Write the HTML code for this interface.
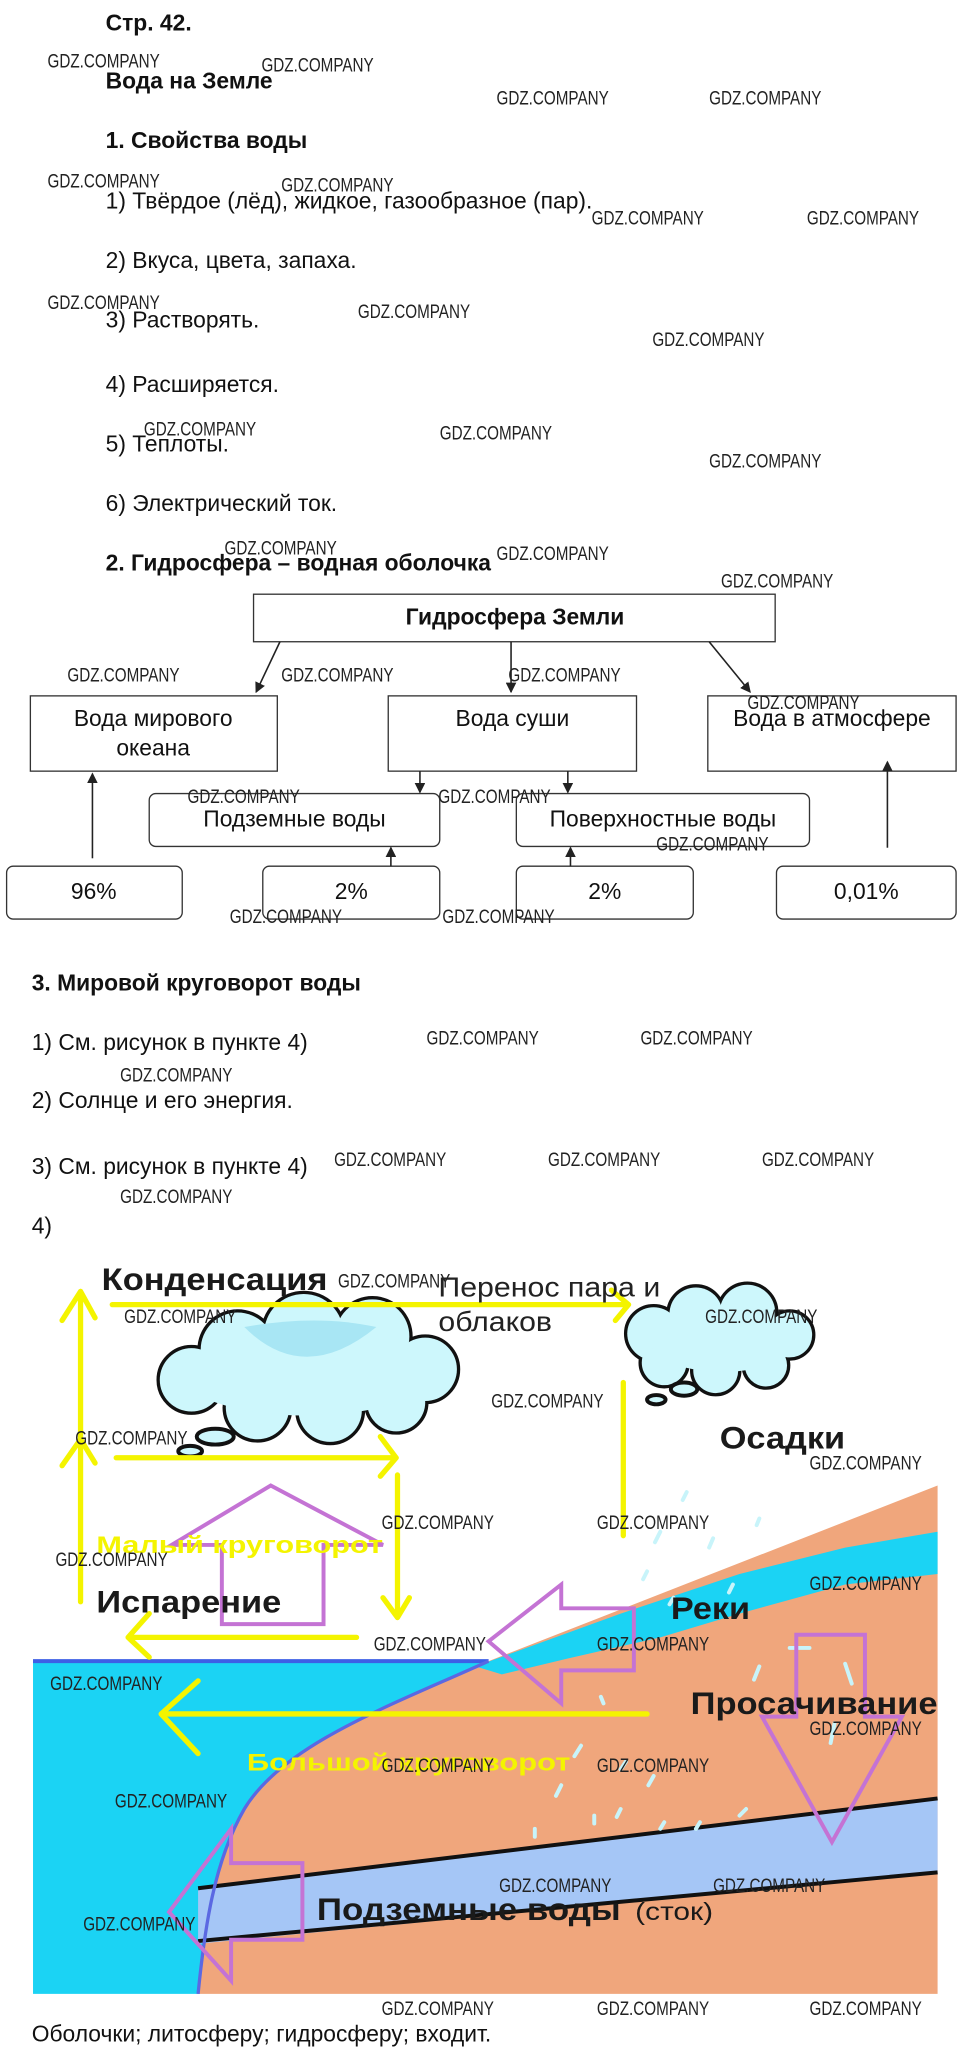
<!DOCTYPE html>
<html><head><meta charset="utf-8"><style>
html,body{margin:0;padding:0;background:#fff;}
svg{display:block;}
text{font-family:"Liberation Sans",sans-serif;}
.t{font-size:17.3px;fill:#111;}
.b{font-weight:bold;}
.w{font-family:"Liberation Sans",sans-serif;font-size:15px;fill:#222;}
.bx{fill:#fff;stroke:#333;stroke-width:1;}
.ar{stroke:#222;stroke-width:1.2;fill:none;}
.y{stroke:#f4f400;stroke-width:4;fill:none;stroke-linecap:round;stroke-linejoin:round;}
.p{stroke:#c473d4;stroke-width:3;fill:none;stroke-linejoin:miter;}
</style></head><body>
<svg width="964" height="2050" viewBox="0 0 730 1552.5" preserveAspectRatio="none" xmlns="http://www.w3.org/2000/svg">
<defs><marker id="ah" markerWidth="8" markerHeight="8" refX="7" refY="4" orient="auto" markerUnits="userSpaceOnUse"><path d="M0,0 L8,4 L0,8 Z" fill="#222"/></marker></defs>
<rect width="730" height="1552.5" fill="#fff"/>
<g class="t">
<text x="80" y="23" class="b">Стр. 42.</text>
<text x="80" y="67" class="b">Вода на Земле</text>
<text x="80" y="112" class="b">1. Свойства воды</text>
<text x="80" y="158">1) Твёрдое (лёд), жидкое, газообразное (пар).</text>
<text x="80" y="203">2) Вкуса, цвета, запаха.</text>
<text x="80" y="248">3) Растворять.</text>
<text x="80" y="297">4) Расширяется.</text>
<text x="80" y="342">5) Теплоты.</text>
<text x="80" y="387">6) Электрический ток.</text>
<text x="80" y="432" class="b">2. Гидросфера – водная оболочка</text>
</g>
<rect class="bx" x="192" y="450" width="395" height="36"/>
<text x="390" y="473" text-anchor="middle" class="t b">Гидросфера Земли</text>
<rect class="bx" x="23" y="527" width="187" height="57"/>
<text x="116" y="550" text-anchor="middle" class="t">Вода мирового</text>
<text x="116" y="572" text-anchor="middle" class="t">океана</text>
<rect class="bx" x="294" y="527" width="188" height="57"/>
<text x="388" y="550" text-anchor="middle" class="t">Вода суши</text>
<rect class="bx" x="536" y="527" width="188" height="57"/>
<text x="630" y="550" text-anchor="middle" class="t">Вода в атмосфере</text>
<rect class="bx" x="113" y="601" width="220" height="40" rx="5"/>
<text x="223" y="626" text-anchor="middle" class="t">Подземные воды</text>
<rect class="bx" x="391" y="601" width="222" height="40" rx="5"/>
<text x="502" y="626" text-anchor="middle" class="t">Поверхностные воды</text>
<rect class="bx" x="5" y="656" width="133" height="40" rx="5"/>
<text x="71" y="681" text-anchor="middle" class="t">96%</text>
<rect class="bx" x="199" y="656" width="134" height="40" rx="5"/>
<text x="266" y="681" text-anchor="middle" class="t">2%</text>
<rect class="bx" x="391" y="656" width="134" height="40" rx="5"/>
<text x="458" y="681" text-anchor="middle" class="t">2%</text>
<rect class="bx" x="588" y="656" width="136" height="40" rx="5"/>
<text x="656" y="681" text-anchor="middle" class="t">0,01%</text>
<g class="ar" marker-end="url(#ah)">
<line x1="212" y1="486" x2="194" y2="524"/>
<line x1="387" y1="486" x2="387" y2="524"/>
<line x1="537" y1="486" x2="568" y2="524"/>
<line x1="318" y1="584" x2="318" y2="600"/>
<line x1="430" y1="584" x2="430" y2="600"/>
<line x1="70" y1="650" x2="70" y2="586"/>
<line x1="296" y1="656" x2="296" y2="642"/>
<line x1="432" y1="656" x2="432" y2="642"/>
<line x1="672" y1="642" x2="672" y2="577"/>
</g>
<g class="t">
<text x="24" y="750" class="b">3. Мировой круговорот воды</text>
<text x="24" y="795">1) См. рисунок в пункте 4)</text>
<text x="24" y="839">2) Солнце и его энергия.</text>
<text x="24" y="889">3) См. рисунок в пункте 4)</text>
<text x="24" y="934">4)</text>
</g>
<!-- picture -->
<path d="M25,1258 L370,1258 C300,1290 215,1320 185,1370 C162,1410 155,1460 150,1510 L25,1510 Z" fill="#1bd3f4"/>
<path d="M370,1258 L710,1125 L710,1510 L150,1510 C155,1460 162,1410 185,1370 C215,1320 300,1290 370,1258 Z" fill="#f0a67c"/>
<path d="M360,1262 L470,1222 L560,1192 L640,1172 L710,1160 L710,1192 L640,1200 L560,1222 L500,1240 L430,1256 L380,1268 Z" fill="#1bd3f4"/>
<path d="M150,1430 L710,1362 L710,1418 L150,1472 Z" fill="#a5c6f6"/>
<line x1="150" y1="1430" x2="710" y2="1362" stroke="#111" stroke-width="3"/>
<line x1="150" y1="1470" x2="710" y2="1418" stroke="#111" stroke-width="3"/>
<line x1="25" y1="1258" x2="370" y2="1258" stroke="#3d5fe6" stroke-width="3"/>
<path d="M370,1258 C300,1290 215,1320 185,1370 C162,1410 155,1460 150,1510" stroke="#5b68e2" stroke-width="2.5" fill="none"/>
<g stroke="#c8f4fa" stroke-width="3" stroke-linecap="round" fill="none">
<path d="M520,1130 l-3,6 M500,1160 l-4,8 M540,1165 l-3,7 M490,1190 l-3,6 M555,1200 l-3,6 M510,1210 l-3,5 M575,1150 l-2,5"/>
<path d="M598,1248 l15,0 M575,1262 l-4,10 M640,1260 l5,15 M632,1305 l-3,15 M455,1285 l2,5 M435,1330 l5,-8 M470,1340 l4,-6 M425,1352 l-4,8 M495,1345 l-4,7 M470,1370 l-3,6 M405,1385 l0,6 M450,1375 l0,6 M500,1385 l3,-5 M560,1375 l5,-5 M530,1380 l-3,5"/>
</g>
<!-- clouds -->
<g stroke="#111" stroke-width="5">
<circle cx="145" cy="1045" r="24"/><circle cx="180" cy="1022" r="28"/><circle cx="230" cy="1010" r="30"/><circle cx="282" cy="1012" r="28"/><circle cx="322" cy="1037" r="24"/><circle cx="300" cy="1062" r="22"/><circle cx="250" cy="1068" r="24"/><circle cx="195" cy="1066" r="24"/>
<circle cx="495" cy="1010" r="20"/><circle cx="527" cy="995" r="20"/><circle cx="566" cy="994" r="21"/><circle cx="598" cy="1011" r="17"/><circle cx="580" cy="1034" r="16"/><circle cx="542" cy="1038" r="17"/><circle cx="503" cy="1032" r="17"/>
</g>
<g fill="#cdf7fc">
<circle cx="145" cy="1045" r="24"/><circle cx="180" cy="1022" r="28"/><circle cx="230" cy="1010" r="30"/><circle cx="282" cy="1012" r="28"/><circle cx="322" cy="1037" r="24"/><circle cx="300" cy="1062" r="22"/><circle cx="250" cy="1068" r="24"/><circle cx="195" cy="1066" r="24"/>
<ellipse cx="232" cy="1040" rx="95" ry="32"/>
<circle cx="495" cy="1010" r="20"/><circle cx="527" cy="995" r="20"/><circle cx="566" cy="994" r="21"/><circle cx="598" cy="1011" r="17"/><circle cx="580" cy="1034" r="16"/><circle cx="542" cy="1038" r="17"/><circle cx="503" cy="1032" r="17"/>
<ellipse cx="547" cy="1015" rx="55" ry="24"/>
</g>
<path d="M185,1005 Q230,1050 285,1005 Q240,995 185,1005 Z" fill="#a8e6f4"/>
<ellipse cx="163" cy="1088" rx="14" ry="6" fill="#cdf7fc" stroke="#111" stroke-width="3"/>
<ellipse cx="144" cy="1099" rx="9" ry="4" fill="#cdf7fc" stroke="#111" stroke-width="3"/>
<ellipse cx="518" cy="1052" rx="10" ry="5" fill="#cdf7fc" stroke="#111" stroke-width="3"/>
<ellipse cx="497" cy="1060" rx="7" ry="3.5" fill="#cdf7fc" stroke="#111" stroke-width="3"/>
<g class="y">
<path d="M61,1213 L61,978 M47,1000 L61,978 L72,998"/>
<path d="M47,1110 L61,1090 L72,1108"/>
<path d="M85,988 L476,988 M463,977 L476,988 L466,1000"/>
<path d="M472,1047 L472,1163"/>
<path d="M88,1104 L300,1104 M288,1088 L300,1104 L288,1118"/>
<path d="M301,1117 L301,1225 M290,1210 L301,1225 L310,1210"/>
<path d="M270,1240 L97,1240 M113,1222 L97,1240 L113,1255"/>
<path d="M490,1298 L122,1298 M150,1273 L122,1298 L150,1328"/>
</g>
<g class="p">
<path d="M205,1125 L290,1170 L245,1170 L245,1230 L168,1230 L168,1170 L130,1170 Z"/>
<path d="M370,1243 L425,1200 L425,1218 L480,1218 L480,1265 L425,1265 L425,1290 Z"/>
<path d="M603,1238 L655,1238 L655,1300 L683,1300 L630,1395 L577,1300 L603,1300 Z"/>
<path d="M128,1448 L175,1385 L175,1411 L229,1411 L229,1469 L175,1469 L175,1500 Z"/>
</g>
<g font-weight="bold" fill="#1a1a1a" font-size="24" lengthAdjust="spacingAndGlyphs">
<text x="77" y="977" textLength="171" lengthAdjust="spacingAndGlyphs">Конденсация</text>
<text x="545" y="1097" textLength="95" lengthAdjust="spacingAndGlyphs">Осадки</text>
<text x="73" y="1221" textLength="140" lengthAdjust="spacingAndGlyphs">Испарение</text>
<text x="508" y="1226" textLength="60" lengthAdjust="spacingAndGlyphs">Реки</text>
<text x="523" y="1298" textLength="187" lengthAdjust="spacingAndGlyphs">Просачивание</text>
<text x="240" y="1454" textLength="230" lengthAdjust="spacingAndGlyphs">Подземные воды</text>
</g>
<text x="481" y="1454" font-size="19" fill="#1a1a1a" textLength="59" lengthAdjust="spacingAndGlyphs">(сток)</text>
<text x="332" y="982" font-size="21" fill="#222" textLength="168" lengthAdjust="spacingAndGlyphs">Перенос пара и</text>
<text x="332" y="1008" font-size="21" fill="#222" textLength="86" lengthAdjust="spacingAndGlyphs">облаков</text>
<text x="73" y="1176" font-size="18" font-weight="bold" fill="#f4f400" textLength="217" lengthAdjust="spacingAndGlyphs">Малый круговорот</text>
<text x="187" y="1341" font-size="18" font-weight="bold" fill="#f4f400" textLength="245" lengthAdjust="spacingAndGlyphs">Большой круговорот</text>
<text x="24" y="1546" class="t">Оболочки; литосферу; гидросферу; входит.</text>
<g class="w" lengthAdjust="spacingAndGlyphs">
<text x="36" y="51" textLength="85" lengthAdjust="spacingAndGlyphs">GDZ.COMPANY</text><text x="198" y="54" textLength="85" lengthAdjust="spacingAndGlyphs">GDZ.COMPANY</text>
<text x="376" y="79" textLength="85" lengthAdjust="spacingAndGlyphs">GDZ.COMPANY</text><text x="537" y="79" textLength="85" lengthAdjust="spacingAndGlyphs">GDZ.COMPANY</text>
<text x="36" y="142" textLength="85" lengthAdjust="spacingAndGlyphs">GDZ.COMPANY</text><text x="213" y="145" textLength="85" lengthAdjust="spacingAndGlyphs">GDZ.COMPANY</text>
<text x="448" y="170" textLength="85" lengthAdjust="spacingAndGlyphs">GDZ.COMPANY</text><text x="611" y="170" textLength="85" lengthAdjust="spacingAndGlyphs">GDZ.COMPANY</text>
<text x="36" y="234" textLength="85" lengthAdjust="spacingAndGlyphs">GDZ.COMPANY</text><text x="271" y="241" textLength="85" lengthAdjust="spacingAndGlyphs">GDZ.COMPANY</text>
<text x="494" y="262" textLength="85" lengthAdjust="spacingAndGlyphs">GDZ.COMPANY</text>
<text x="109" y="330" textLength="85" lengthAdjust="spacingAndGlyphs">GDZ.COMPANY</text><text x="333" y="333" textLength="85" lengthAdjust="spacingAndGlyphs">GDZ.COMPANY</text>
<text x="537" y="354" textLength="85" lengthAdjust="spacingAndGlyphs">GDZ.COMPANY</text>
<text x="170" y="420" textLength="85" lengthAdjust="spacingAndGlyphs">GDZ.COMPANY</text><text x="376" y="424" textLength="85" lengthAdjust="spacingAndGlyphs">GDZ.COMPANY</text>
<text x="546" y="445" textLength="85" lengthAdjust="spacingAndGlyphs">GDZ.COMPANY</text>
<text x="51" y="516" textLength="85" lengthAdjust="spacingAndGlyphs">GDZ.COMPANY</text><text x="213" y="516" textLength="85" lengthAdjust="spacingAndGlyphs">GDZ.COMPANY</text><text x="385" y="516" textLength="85" lengthAdjust="spacingAndGlyphs">GDZ.COMPANY</text><text x="566" y="537" textLength="85" lengthAdjust="spacingAndGlyphs">GDZ.COMPANY</text>
<text x="142" y="608" textLength="85" lengthAdjust="spacingAndGlyphs">GDZ.COMPANY</text><text x="332" y="608" textLength="85" lengthAdjust="spacingAndGlyphs">GDZ.COMPANY</text><text x="497" y="644" textLength="85" lengthAdjust="spacingAndGlyphs">GDZ.COMPANY</text>
<text x="174" y="699" textLength="85" lengthAdjust="spacingAndGlyphs">GDZ.COMPANY</text><text x="335" y="699" textLength="85" lengthAdjust="spacingAndGlyphs">GDZ.COMPANY</text>
<text x="323" y="791" textLength="85" lengthAdjust="spacingAndGlyphs">GDZ.COMPANY</text><text x="485" y="791" textLength="85" lengthAdjust="spacingAndGlyphs">GDZ.COMPANY</text>
<text x="91" y="819" textLength="85" lengthAdjust="spacingAndGlyphs">GDZ.COMPANY</text>
<text x="253" y="883" textLength="85" lengthAdjust="spacingAndGlyphs">GDZ.COMPANY</text><text x="415" y="883" textLength="85" lengthAdjust="spacingAndGlyphs">GDZ.COMPANY</text><text x="577" y="883" textLength="85" lengthAdjust="spacingAndGlyphs">GDZ.COMPANY</text>
<text x="91" y="911" textLength="85" lengthAdjust="spacingAndGlyphs">GDZ.COMPANY</text>
<text x="256" y="975" textLength="85" lengthAdjust="spacingAndGlyphs">GDZ.COMPANY</text><text x="94" y="1002" textLength="85" lengthAdjust="spacingAndGlyphs">GDZ.COMPANY</text><text x="534" y="1002" textLength="85" lengthAdjust="spacingAndGlyphs">GDZ.COMPANY</text>
<text x="372" y="1066" textLength="85" lengthAdjust="spacingAndGlyphs">GDZ.COMPANY</text><text x="57" y="1094" textLength="85" lengthAdjust="spacingAndGlyphs">GDZ.COMPANY</text><text x="613" y="1113" textLength="85" lengthAdjust="spacingAndGlyphs">GDZ.COMPANY</text>
<text x="289" y="1158" textLength="85" lengthAdjust="spacingAndGlyphs">GDZ.COMPANY</text><text x="452" y="1158" textLength="85" lengthAdjust="spacingAndGlyphs">GDZ.COMPANY</text><text x="42" y="1186" textLength="85" lengthAdjust="spacingAndGlyphs">GDZ.COMPANY</text>
<text x="613" y="1204" textLength="85" lengthAdjust="spacingAndGlyphs">GDZ.COMPANY</text><text x="283" y="1250" textLength="85" lengthAdjust="spacingAndGlyphs">GDZ.COMPANY</text><text x="452" y="1250" textLength="85" lengthAdjust="spacingAndGlyphs">GDZ.COMPANY</text>
<text x="38" y="1280" textLength="85" lengthAdjust="spacingAndGlyphs">GDZ.COMPANY</text><text x="613" y="1314" textLength="85" lengthAdjust="spacingAndGlyphs">GDZ.COMPANY</text>
<text x="289" y="1342" textLength="85" lengthAdjust="spacingAndGlyphs">GDZ.COMPANY</text><text x="452" y="1342" textLength="85" lengthAdjust="spacingAndGlyphs">GDZ.COMPANY</text>
<text x="87" y="1369" textLength="85" lengthAdjust="spacingAndGlyphs">GDZ.COMPANY</text><text x="378" y="1433" textLength="85" lengthAdjust="spacingAndGlyphs">GDZ.COMPANY</text><text x="540" y="1433" textLength="85" lengthAdjust="spacingAndGlyphs">GDZ.COMPANY</text>
<text x="63" y="1462" textLength="85" lengthAdjust="spacingAndGlyphs">GDZ.COMPANY</text>
<text x="289" y="1526" textLength="85" lengthAdjust="spacingAndGlyphs">GDZ.COMPANY</text><text x="452" y="1526" textLength="85" lengthAdjust="spacingAndGlyphs">GDZ.COMPANY</text><text x="613" y="1526" textLength="85" lengthAdjust="spacingAndGlyphs">GDZ.COMPANY</text>
</g>
</svg>
</body></html>
